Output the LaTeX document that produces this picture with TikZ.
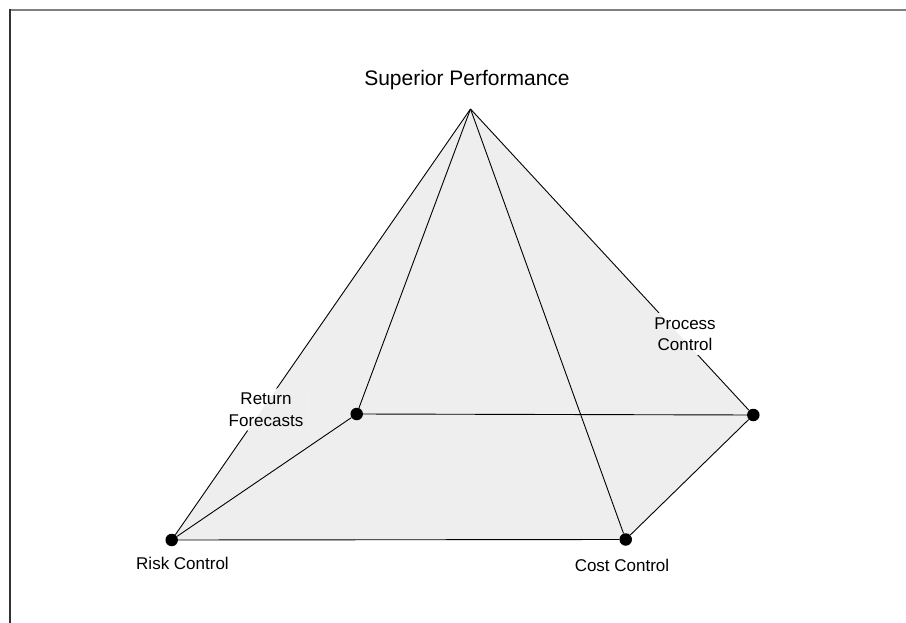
\documentclass[tikz,border=0pt]{standalone}
\usepackage{fontspec}
\setmainfont{Liberation Sans}
\definecolor{facegray}{RGB}{238,238,238}
\definecolor{frametop}{RGB}{128,128,128}
\definecolor{frameleft}{RGB}{50,50,50}
\pgfdeclarelayer{back}
\pgfsetlayers{back,main}
\begin{document}
\begin{tikzpicture}[x=1pt,y=-1pt,
  edge/.style={draw=black, line width=0.9pt},
  vdot/.style={circle, fill=black, inner sep=0pt, minimum size=12.5pt},
  lab/.style={font=\fontsize{17}{21.5}\selectfont, align=center, inner sep=0pt},
  gaplab/.style={lab, inner xsep=5pt, inner ysep=4pt},
  titlelab/.style={font=\fontsize{21}{25}\selectfont, inner sep=0pt}]
\useasboundingbox (0,0) rectangle (906,623);
\draw[frametop, line width=2pt] (10,10) -- (906,10);
\draw[frameleft, line width=2pt] (10,9) -- (10,623);

\coordinate (apex) at (470.5,109);
\node[vdot] (risk) at (171.7,540) {};
\node[vdot] (cost) at (625.7,539.5) {};
\node[vdot] (proc) at (753.3,415) {};
\node[vdot] (ret) at (356.7,414) {};

\node[titlelab] (title) at (467,80) {Superior Performance};
\node[gaplab] (retlab) at (266,409.5) {Return\\Forecasts};
\node[gaplab] (proclab) at (685,334) {Process\\Control};
\node[lab] (risklab) at (182.5,563) {Risk Control};
\node[lab] (costlab) at (622,565) {Cost Control};

\begin{pgfonlayer}{back}
  \fill[facegray] (apex) -- (risk.center) -- (cost.center) -- (proc.center) -- cycle;
  \draw[edge] (apex) -- (risk);
  \draw[edge] (apex) -- (ret);
  \draw[edge] (apex) -- (cost);
  \draw[edge] (apex) -- (proc);
  \draw[edge] (risk) -- (ret);
  \draw[edge] (ret) -- (proc);
  \draw[edge] (risk) -- (cost);
  \draw[edge] (cost) -- (proc);
  \foreach \L in {retlab,proclab}{
    \begin{scope}
      \clip (\L.south west) rectangle (\L.north east);
      \fill[white] (\L.south west) rectangle (\L.north east);
      \fill[facegray] (apex) -- (risk.center) -- (cost.center) -- (proc.center) -- cycle;
    \end{scope}
  }
\end{pgfonlayer}
\end{tikzpicture}
\end{document}
